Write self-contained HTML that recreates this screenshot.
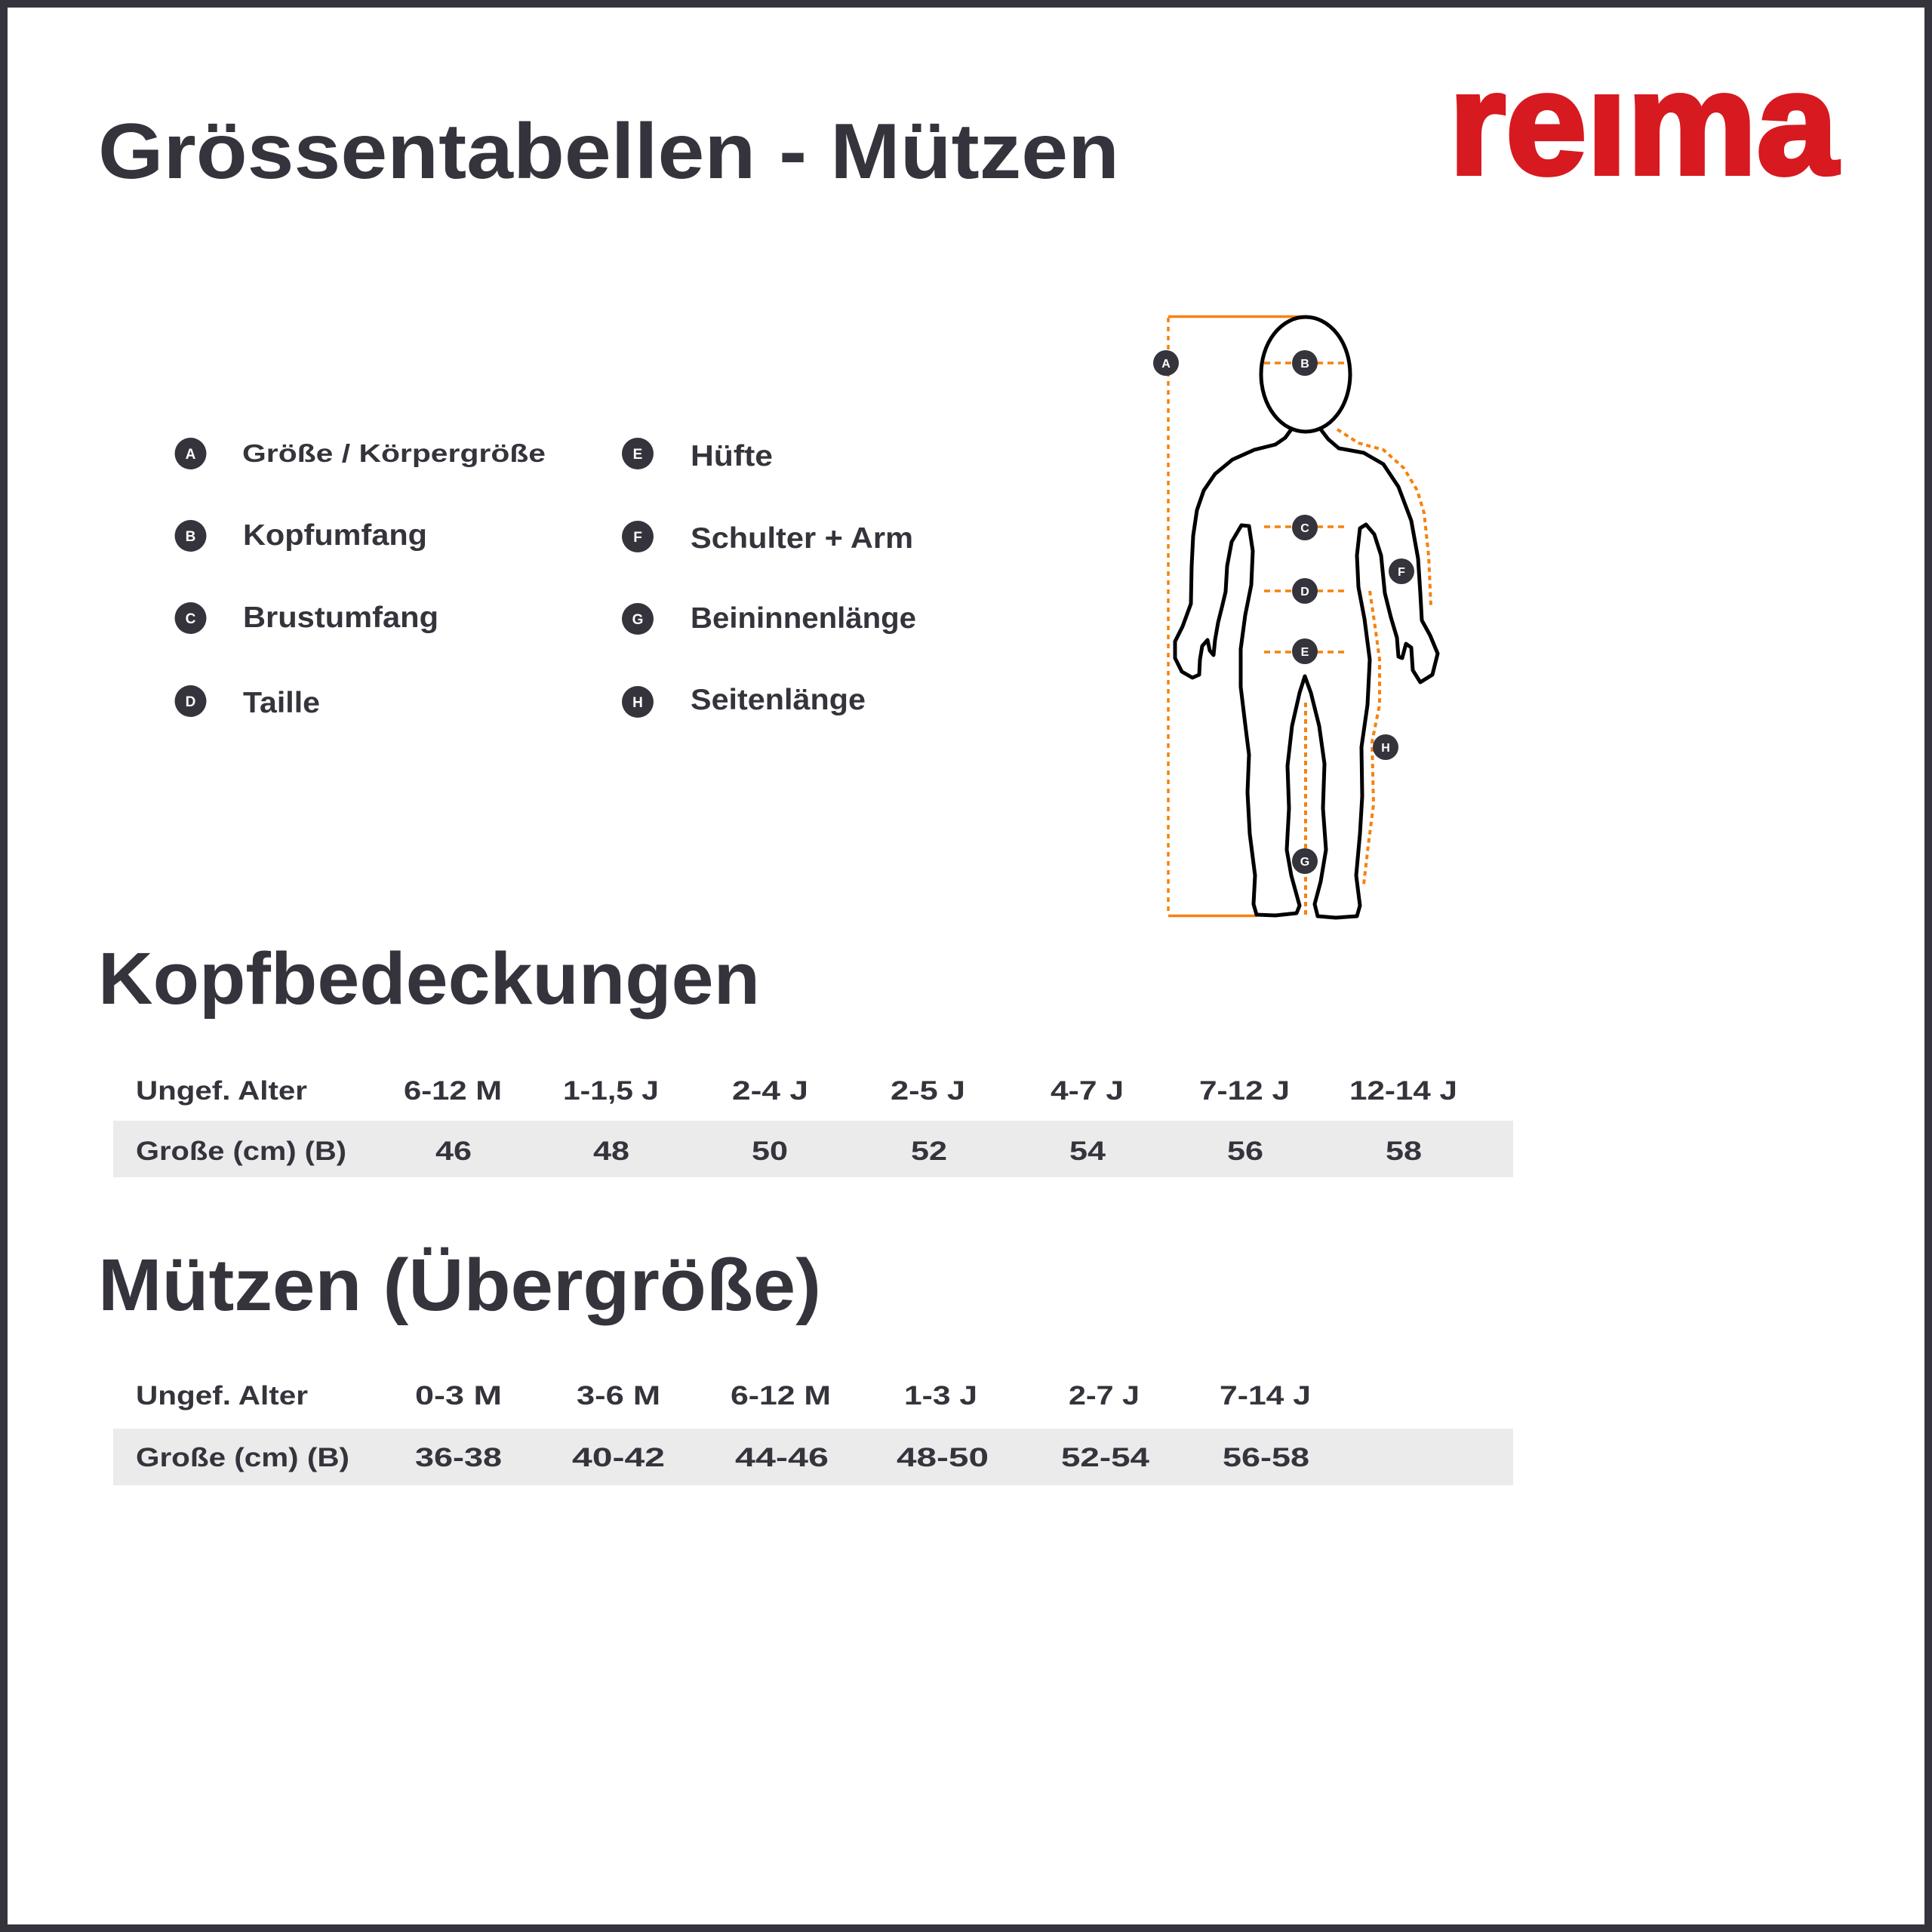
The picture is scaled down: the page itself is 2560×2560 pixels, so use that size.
<!DOCTYPE html>
<html>
<head>
<meta charset="utf-8">
<style>
html,body{margin:0;padding:0;background:#fff;}
svg{display:block;}
text{font-family:"Liberation Sans","DejaVu Sans",sans-serif;font-weight:bold;fill:#35343c;}
.w{fill:#fff;}
</style>
</head>
<body>
<svg width="2560" height="2560" viewBox="0 0 2560 2560" xmlns="http://www.w3.org/2000/svg">
<rect x="5" y="5" width="2550" height="2550" fill="#fff" stroke="#35343c" stroke-width="10"/>

<!-- Title -->
<text x="130" y="236" font-size="104" textLength="1353" lengthAdjust="spacingAndGlyphs">Grössentabellen - Mützen</text>

<!-- Logo -->
<text x="1920" y="230" font-size="193" textLength="515" lengthAdjust="spacingAndGlyphs" style="fill:#d71920" stroke="#d71920" stroke-width="6">reima</text>
<rect x="2093" y="40" width="75" height="78" fill="#fff"/>

<!-- Legend -->
<g>
<circle cx="252.5" cy="601" r="21" fill="#35343c"/><text class="w" x="252.5" y="608" font-size="19" text-anchor="middle">A</text>
<circle cx="252.5" cy="710" r="21" fill="#35343c"/><text class="w" x="252.5" y="717" font-size="19" text-anchor="middle">B</text>
<circle cx="252.5" cy="819" r="21" fill="#35343c"/><text class="w" x="252.5" y="826" font-size="19" text-anchor="middle">C</text>
<circle cx="252.5" cy="929" r="21" fill="#35343c"/><text class="w" x="252.5" y="936" font-size="19" text-anchor="middle">D</text>
<circle cx="845" cy="601" r="21" fill="#35343c"/><text class="w" x="845" y="608" font-size="19" text-anchor="middle">E</text>
<circle cx="845" cy="711" r="21" fill="#35343c"/><text class="w" x="845" y="718" font-size="19" text-anchor="middle">F</text>
<circle cx="845" cy="820" r="21" fill="#35343c"/><text class="w" x="845" y="827" font-size="19" text-anchor="middle">G</text>
<circle cx="845" cy="930" r="21" fill="#35343c"/><text class="w" x="845" y="937" font-size="19" text-anchor="middle">H</text>

<text x="321" y="612" font-size="33" textLength="402" lengthAdjust="spacingAndGlyphs">Größe / Körpergröße</text>
<text x="322" y="722" font-size="39" textLength="244" lengthAdjust="spacingAndGlyphs">Kopfumfang</text>
<text x="322" y="831" font-size="39" textLength="259" lengthAdjust="spacingAndGlyphs">Brustumfang</text>
<text x="322" y="944" font-size="39" textLength="102" lengthAdjust="spacingAndGlyphs">Taille</text>
<text x="915" y="617" font-size="39" textLength="109" lengthAdjust="spacingAndGlyphs">Hüfte</text>
<text x="915" y="726" font-size="39" textLength="295" lengthAdjust="spacingAndGlyphs">Schulter + Arm</text>
<text x="915" y="832" font-size="39" textLength="299" lengthAdjust="spacingAndGlyphs">Beininnenlänge</text>
<text x="915" y="940" font-size="39" textLength="232" lengthAdjust="spacingAndGlyphs">Seitenlänge</text>
</g>

<!-- Figure -->
<g fill="none" stroke-linecap="butt">
  <!-- A measure -->
  <line x1="1548" y1="419.5" x2="1732" y2="419.5" stroke="#f5820f" stroke-width="3.5"/>
  <line x1="1548" y1="1213.5" x2="1665" y2="1213.5" stroke="#f5820f" stroke-width="3.5"/>
  <line x1="1548" y1="421" x2="1548" y2="1212" stroke="#f5820f" stroke-width="3.5" stroke-dasharray="6 6"/>
  <!-- horizontal dashed -->
  <line x1="1675" y1="481" x2="1786" y2="481" stroke="#f5820f" stroke-width="3.5" stroke-dasharray="8 6"/>
  <line x1="1675" y1="698" x2="1786" y2="698" stroke="#f5820f" stroke-width="3.5" stroke-dasharray="8 6"/>
  <line x1="1675" y1="783" x2="1786" y2="783" stroke="#f5820f" stroke-width="3.5" stroke-dasharray="8 6"/>
  <line x1="1675" y1="864" x2="1786" y2="864" stroke="#f5820f" stroke-width="3.5" stroke-dasharray="8 6"/>
  <!-- F -->
  <polyline points="1772,569 1800,587 1833,596 1860,620 1878,650 1887,680 1893,736 1896,802" stroke="#f5820f" stroke-width="4" stroke-dasharray="6 5" stroke-linejoin="round"/>
  <!-- G -->
  <line x1="1730" y1="931" x2="1730" y2="1214" stroke="#f5820f" stroke-width="4" stroke-dasharray="6 5"/>
  <!-- H -->
  <polyline points="1815,783 1822,830 1828,874 1828,934 1818,983 1820,1066 1813,1120 1807,1172" stroke="#f5820f" stroke-width="4" stroke-dasharray="6 5" stroke-linejoin="round"/>

  <!-- head -->
  <ellipse cx="1730" cy="496" rx="59" ry="76" stroke="#000" stroke-width="5"/>
  <!-- body -->
  <polyline stroke="#000" stroke-width="5" stroke-linejoin="round" points="1711,569 1703,580 1690,589 1662,596 1633,609 1610,628 1595,650 1586,676 1581,710 1579,750 1578,800 1567,830 1557,850 1557,872 1566,890 1580,898 1589,894 1590,874 1593,856 1600,848 1603,862 1608,868 1610,848 1614,825 1619,805 1624,784 1626,750 1632,718 1645,696 1655,697 1660,730 1658,775 1650,815 1644,860 1644,910 1650,960 1655,1000 1653,1050 1656,1105 1663,1160 1661,1198 1665,1212 1690,1213 1718,1210 1722,1200 1711,1160 1705,1126 1708,1071 1706,1015 1712,962 1722,918 1729,896 1737,918 1748,962 1755,1012 1753,1071 1757,1126 1750,1168 1742,1198 1746,1214 1770,1216 1798,1214 1802,1200 1797,1160 1802,1105 1805,1055 1804,990 1812,934 1815,874 1808,820 1800,778 1798,736 1802,700 1810,695 1821,708 1830,736 1835,786 1843,818 1851,845 1853,870 1858,872 1863,853 1870,858 1872,888 1882,904 1898,894 1905,866 1895,842 1884,822 1882,786 1879,740 1870,690 1853,645 1833,615 1807,600 1774,594 1760,582 1750,569"/>
</g>
<g>
<circle cx="1545" cy="481" r="17" fill="#35343c"/><text class="w" x="1545" y="487" font-size="16" text-anchor="middle">A</text>
<circle cx="1729" cy="481" r="17" fill="#35343c"/><text class="w" x="1729" y="487" font-size="16" text-anchor="middle">B</text>
<circle cx="1729" cy="699" r="17" fill="#35343c"/><text class="w" x="1729" y="705" font-size="16" text-anchor="middle">C</text>
<circle cx="1729" cy="783" r="17" fill="#35343c"/><text class="w" x="1729" y="789" font-size="16" text-anchor="middle">D</text>
<circle cx="1729" cy="863" r="17" fill="#35343c"/><text class="w" x="1729" y="869" font-size="16" text-anchor="middle">E</text>
<circle cx="1857" cy="757" r="17" fill="#35343c"/><text class="w" x="1857" y="763" font-size="16" text-anchor="middle">F</text>
<circle cx="1729" cy="1141" r="17" fill="#35343c"/><text class="w" x="1729" y="1147" font-size="16" text-anchor="middle">G</text>
<circle cx="1836" cy="990" r="17" fill="#35343c"/><text class="w" x="1836" y="996" font-size="16" text-anchor="middle">H</text>
</g>

<!-- Section 1 -->
<text x="130" y="1330" font-size="97" textLength="877" lengthAdjust="spacingAndGlyphs">Kopfbedeckungen</text>
<rect x="150" y="1485" width="1855" height="75" fill="#ebebeb"/>
<g font-size="35">
<text x="180" y="1457" textLength="227" lengthAdjust="spacingAndGlyphs">Ungef. Alter</text>
<text x="535" y="1457" textLength="130" lengthAdjust="spacingAndGlyphs">6-12 M</text>
<text x="746" y="1457" textLength="127" lengthAdjust="spacingAndGlyphs">1-1,5 J</text>
<text x="970" y="1457" textLength="101" lengthAdjust="spacingAndGlyphs">2-4 J</text>
<text x="1180" y="1457" textLength="99" lengthAdjust="spacingAndGlyphs">2-5 J</text>
<text x="1392" y="1457" textLength="97" lengthAdjust="spacingAndGlyphs">4-7 J</text>
<text x="1589" y="1457" textLength="120" lengthAdjust="spacingAndGlyphs">7-12 J</text>
<text x="1788" y="1457" textLength="143" lengthAdjust="spacingAndGlyphs">12-14 J</text>

<text x="180" y="1537" textLength="279" lengthAdjust="spacingAndGlyphs">Große (cm) (B)</text>
<text x="577" y="1537" textLength="48" lengthAdjust="spacingAndGlyphs">46</text>
<text x="786" y="1537" textLength="48" lengthAdjust="spacingAndGlyphs">48</text>
<text x="996" y="1537" textLength="48" lengthAdjust="spacingAndGlyphs">50</text>
<text x="1207" y="1537" textLength="48" lengthAdjust="spacingAndGlyphs">52</text>
<text x="1417" y="1537" textLength="48" lengthAdjust="spacingAndGlyphs">54</text>
<text x="1626" y="1537" textLength="48" lengthAdjust="spacingAndGlyphs">56</text>
<text x="1836" y="1537" textLength="48" lengthAdjust="spacingAndGlyphs">58</text>
</g>

<!-- Section 2 -->
<text x="130" y="1736" font-size="97" textLength="958" lengthAdjust="spacingAndGlyphs">Mützen (Übergröße)</text>
<rect x="150" y="1893" width="1855" height="75" fill="#ebebeb"/>
<g font-size="35">
<text x="180" y="1861" textLength="228" lengthAdjust="spacingAndGlyphs">Ungef. Alter</text>
<text x="550" y="1861" textLength="115" lengthAdjust="spacingAndGlyphs">0-3 M</text>
<text x="764" y="1861" textLength="111" lengthAdjust="spacingAndGlyphs">3-6 M</text>
<text x="968" y="1861" textLength="133" lengthAdjust="spacingAndGlyphs">6-12 M</text>
<text x="1198" y="1861" textLength="97" lengthAdjust="spacingAndGlyphs">1-3 J</text>
<text x="1416" y="1861" textLength="94" lengthAdjust="spacingAndGlyphs">2-7 J</text>
<text x="1616" y="1861" textLength="121" lengthAdjust="spacingAndGlyphs">7-14 J</text>

<text x="180" y="1943" textLength="283" lengthAdjust="spacingAndGlyphs">Große (cm) (B)</text>
<text x="550" y="1943" textLength="115" lengthAdjust="spacingAndGlyphs">36-38</text>
<text x="758" y="1943" textLength="123" lengthAdjust="spacingAndGlyphs">40-42</text>
<text x="974" y="1943" textLength="124" lengthAdjust="spacingAndGlyphs">44-46</text>
<text x="1188" y="1943" textLength="122" lengthAdjust="spacingAndGlyphs">48-50</text>
<text x="1406" y="1943" textLength="117" lengthAdjust="spacingAndGlyphs">52-54</text>
<text x="1620" y="1943" textLength="115" lengthAdjust="spacingAndGlyphs">56-58</text>
</g>
</svg>
</body>
</html>
